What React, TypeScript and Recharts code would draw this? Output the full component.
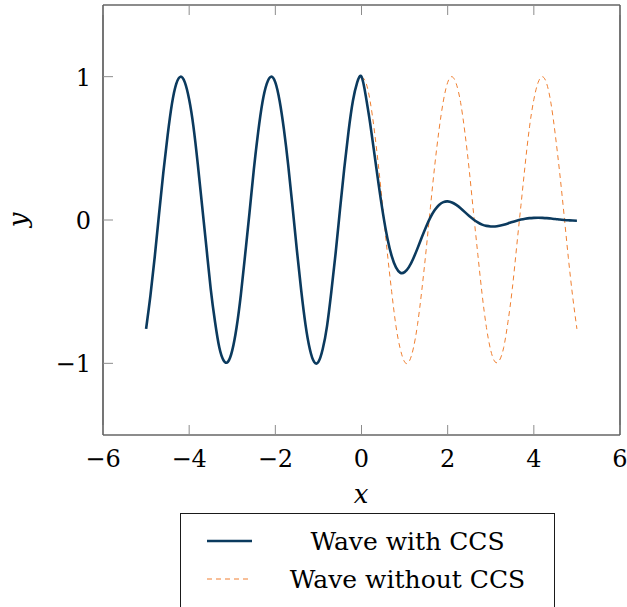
import { LineChart, Line, XAxis, YAxis } from 'recharts'

// sample positions along x (step 0.1)
const X_VALUES = [
    -5.0, -4.9, -4.8, -4.7, -4.6, -4.5, -4.4, -4.3, -4.2, -4.1,
    -4.0, -3.9, -3.8, -3.7, -3.6, -3.5, -3.4, -3.3, -3.2, -3.1,
    -3.0, -2.9, -2.8, -2.7, -2.6, -2.5, -2.4, -2.3, -2.2, -2.1,
    -2.0, -1.9, -1.8, -1.7, -1.6, -1.5, -1.4, -1.3, -1.2, -1.1,
    -1.0, -0.9, -0.8, -0.7, -0.6, -0.5, -0.4, -0.3, -0.2, -0.1,
    0.0, 0.1, 0.2, 0.3, 0.4, 0.5, 0.6, 0.7, 0.8, 0.9,
    1.0, 1.1, 1.2, 1.3, 1.4, 1.5, 1.6, 1.7, 1.8, 1.9,
    2.0, 2.1, 2.2, 2.3, 2.4, 2.5, 2.6, 2.7, 2.8, 2.9,
    3.0, 3.1, 3.2, 3.3, 3.4, 3.5, 3.6, 3.7, 3.8, 3.9,
    4.0, 4.1, 4.2, 4.3, 4.4, 4.5, 4.6, 4.7, 4.8, 4.9,
    5.0,
]

// wave with CCS, one value per X_VALUES entry
const WAVE_WITH_CCS = [
    -0.76, -0.53, -0.26, 0.04, 0.33, 0.59, 0.81, 0.95, 1.0, 0.96,
    0.84, 0.65, 0.39, 0.10, -0.19, -0.48, -0.71, -0.89, -0.98, -0.99,
    -0.91, -0.75, -0.52, -0.24, 0.05, 0.35, 0.61, 0.82, 0.95, 1.0,
    0.96, 0.83, 0.63, 0.38, 0.09, -0.21, -0.49, -0.73, -0.90, -0.99,
    -0.99, -0.90, -0.74, -0.50, -0.23, 0.07, 0.36, 0.62, 0.83, 0.96,
    1.0, 0.864, 0.676, 0.460, 0.243, 0.043, -0.125, -0.251, -0.331, -0.368,
    -0.364, -0.329, -0.270, -0.198, -0.121, -0.047, 0.018, 0.069, 0.105, 0.125,
    0.130, 0.122, 0.105, 0.082, 0.055, 0.028, 0.004, -0.016, -0.032, -0.041,
    -0.045, -0.045, -0.040, -0.033, -0.024, -0.014, -0.005, 0.003, 0.009, 0.013,
    0.015, 0.016, 0.015, 0.013, 0.010, 0.007, 0.003, 0.0, -0.002, -0.004,
    -0.005,
]

// wave without CCS, only drawn from x = 0 to 5
const WAVE_WITHOUT_CCS_START = 0
const WAVE_WITHOUT_CCS = [
    1.0, 0.96, 0.83, 0.62, 0.36, 0.07, -0.23, -0.50, -0.74, -0.90,
    -0.99, -0.99, -0.90, -0.73, -0.49, -0.21, 0.09, 0.38, 0.63, 0.83,
    0.96, 1.0, 0.95, 0.82, 0.61, 0.35, 0.05, -0.24, -0.52, -0.75,
    -0.91, -0.99, -0.98, -0.89, -0.71, -0.48, -0.19, 0.10, 0.39, 0.65,
    0.84, 0.96, 1.0, 0.95, 0.81, 0.59, 0.33, 0.04, -0.26, -0.53,
    -0.76,
]

const X_TICKS = [-6, -4, -2, 0, 2, 4, 6]
const Y_TICKS = [-1, 0, 1]

const FONT = '"DejaVu Serif", serif'
const BLUE = '#0b3a5e'
const ORANGE = '#f07f30'
const AXIS = '#1a1a1a'
const TICK = '#8c8c8c'

const startIdx = X_VALUES.indexOf(WAVE_WITHOUT_CCS_START)
const chartData = X_VALUES.map((x, i) => ({
    x,
    withCcs: WAVE_WITH_CCS[i],
    withoutCcs: i >= startIdx ? WAVE_WITHOUT_CCS[i - startIdx] : null,
}))

function fmt(v: number) {
    return v < 0 ? `\u2212${Math.abs(v)}` : String(v)
}

function BottomTick(props: any) {
    const { x, y, payload } = props
    return (
        <g>
            <line x1={x} y1={y} x2={x} y2={y - 10} stroke={TICK} strokeWidth={1} />
            <text x={x} y={y + 32} textAnchor="middle" fontFamily={FONT} fontSize={24} fill="#000">
                {fmt(payload.value)}
            </text>
        </g>
    )
}

function TopTick(props: any) {
    const { x, y } = props
    return <line x1={x} y1={y} x2={x} y2={y + 10} stroke={TICK} strokeWidth={1} />
}

function LeftTick(props: any) {
    const { x, y, payload } = props
    return (
        <g>
            <line x1={x} y1={y} x2={x + 10} y2={y} stroke={TICK} strokeWidth={1} />
            <text x={x - 12} y={y + 9} textAnchor="end" fontFamily={FONT} fontSize={24} fill="#000">
                {fmt(payload.value)}
            </text>
        </g>
    )
}

function RightTick(props: any) {
    const { x, y } = props
    return <line x1={x} y1={y} x2={x - 10} y2={y} stroke={TICK} strokeWidth={1} />
}

function LegendBox() {
    return (
        <svg width={375} height={95} style={{ position: 'absolute', left: 180, top: 513 }}>
            <rect x={0.5} y={0.5} width={374} height={100} fill="#fff" stroke={AXIS} strokeWidth={1} />
            <line x1={27} y1={28} x2={72} y2={28} stroke={BLUE} strokeWidth={2.6} />
            <line x1={27} y1={66} x2={72} y2={66} stroke={ORANGE} strokeWidth={1} strokeDasharray="5 4" />
            <text x={227.5} y={37} textAnchor="middle" fontFamily={FONT} fontSize={25} fill="#000">
                Wave with CCS
            </text>
            <text x={227.5} y={75} textAnchor="middle" fontFamily={FONT} fontSize={25} fill="#000">
                Wave without CCS
            </text>
        </svg>
    )
}

export default function App() {
    return (
        <div style={{ position: 'absolute', left: 0, top: 0, width: 627, height: 607, background: '#fff' }}>
            <LineChart
                width={627}
                height={607}
                data={chartData}
                margin={{ top: 4, right: 6, left: 102, bottom: 171 }}
            >
                <XAxis
                    xAxisId="bottom"
                    dataKey="x"
                    type="number"
                    domain={[-6, 6]}
                    ticks={X_TICKS}
                    interval={0}
                    height={1}
                    tickSize={0}
                    tickMargin={0}
                    tickLine={false}
                    axisLine={{ stroke: AXIS, strokeWidth: 1.2 }}
                    tick={<BottomTick />}
                />
                <XAxis
                    xAxisId="top"
                    orientation="top"
                    dataKey="x"
                    type="number"
                    domain={[-6, 6]}
                    ticks={X_TICKS}
                    interval={0}
                    height={1}
                    tickSize={0}
                    tickMargin={0}
                    tickLine={false}
                    axisLine={{ stroke: AXIS, strokeWidth: 1.2 }}
                    tick={<TopTick />}
                />
                <YAxis
                    yAxisId="left"
                    type="number"
                    domain={[-1.5, 1.5]}
                    ticks={Y_TICKS}
                    interval={0}
                    width={1}
                    tickSize={0}
                    tickMargin={0}
                    tickLine={false}
                    axisLine={{ stroke: AXIS, strokeWidth: 1.2 }}
                    tick={<LeftTick />}
                />
                <YAxis
                    yAxisId="right"
                    orientation="right"
                    type="number"
                    domain={[-1.5, 1.5]}
                    ticks={Y_TICKS}
                    interval={0}
                    width={1}
                    tickSize={0}
                    tickMargin={0}
                    tickLine={false}
                    axisLine={{ stroke: AXIS, strokeWidth: 1.2 }}
                    tick={<RightTick />}
                />
                <Line
                    xAxisId="bottom"
                    yAxisId="left"
                    type="natural"
                    dataKey="withoutCcs"
                    stroke={ORANGE}
                    strokeWidth={1}
                    strokeDasharray="5 4"
                    dot={false}
                    activeDot={false}
                    isAnimationActive={false}
                />
                <Line
                    xAxisId="bottom"
                    yAxisId="left"
                    type="natural"
                    dataKey="withCcs"
                    stroke={BLUE}
                    strokeWidth={2.6}
                    dot={false}
                    activeDot={false}
                    isAnimationActive={false}
                />
                <text x={361} y={503} textAnchor="middle" fontFamily={FONT} fontStyle="italic" fontSize={26} fill="#000">
                    x
                </text>
                <text
                    x={27}
                    y={220}
                    transform="rotate(-90 27 220)"
                    textAnchor="middle"
                    fontFamily={FONT}
                    fontStyle="italic"
                    fontSize={26}
                    fill="#000"
                >
                    y
                </text>
            </LineChart>
            <LegendBox />
        </div>
    )
}
